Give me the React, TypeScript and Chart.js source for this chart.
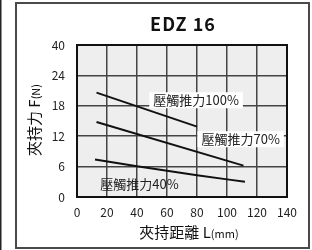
import React, { useEffect, useRef } from "react";
import { Chart, registerables } from "chart.js";

Chart.register(...registerables);

const title = "EDZ 16";
const xTicks = [0, 20, 40, 60, 80, 100, 120, 140];
const yTickLabels = [0, 6, 12, 18, 24, 40];

const seriesNames = ["壓觸推力100%", "壓觸推力70%", "壓觸推力40%"];
const x100 = [13, 80];
const f100 = [20.6, 13.9];
const x70 = [13, 111];
const f70 = [14.8, 6.2];
const x40 = [12, 40, 80, 112];
const f40 = [7.4, 6.05, 4.3, 3.0];

// label anchor positions in data units (L, F)
const labelX = [79.4, 109.1, 41.7];
const labelF = [19.1, 11.4, 2.5];
const labelBoxed = [true, true, false];

const FONT = "'Noto Sans CJK TC', 'Noto Sans', sans-serif";

// piecewise mapping from force value to the evenly spaced tick index
function toIdx(f: number): number {
  for (let i = 0; i < yTickLabels.length - 1; i++) {
    const a = yTickLabels[i], b = yTickLabels[i + 1];
    if (f <= b || i === yTickLabels.length - 2) return i + (f - a) / (b - a);
  }
  return 0;
}

function pts(xs: number[], fs: number[]) {
  return xs.map((x, i) => ({ x, y: toIdx(fs[i]) }));
}

const decor = {
  id: "decor",
  beforeDraw(chart: any) {
    const ctx = chart.ctx;
    const { left, top, right, bottom } = chart.chartArea;
    ctx.save();
    ctx.fillStyle = "#ffffff";
    ctx.fillRect(0, 0, chart.width, chart.height);
    // outer frame
    ctx.strokeStyle = "#4a4a4a";
    ctx.lineWidth = 2;
    ctx.strokeRect(16, 3, 293, 245);
    ctx.fillStyle = "#222";
    ctx.fillRect(0, 0, 1.5, chart.height);
    // plot bg
    ctx.fillStyle = "#eeeeee";
    ctx.fillRect(left, top, right - left, bottom - top);
    // title
    ctx.fillStyle = "#111";
    ctx.font = `bold 18px ${FONT}`;
    try { (ctx as any).letterSpacing = "1px"; } catch (e) {}
    ctx.textAlign = "center";
    ctx.textBaseline = "middle";
    ctx.fillText(title, (left + right) / 2 + 1, 24);
    try { (ctx as any).letterSpacing = "0px"; } catch (e) {}
    // axis titles with smaller unit text
    const drawMixed = (parts: [string, number][], cx: number, cy: number) => {
      let total = 0;
      parts.forEach(([t, s]) => {
        ctx.font = `${s}px ${FONT}`;
        total += ctx.measureText(t).width;
      });
      let x = cx - total / 2;
      ctx.textAlign = "left";
      ctx.textBaseline = "alphabetic";
      parts.forEach(([t, s]) => {
        ctx.font = `${s}px ${FONT}`;
        ctx.fillText(t, x, cy);
        x += ctx.measureText(t).width;
      });
    };
    ctx.fillStyle = "#111";
    drawMixed([["夾持距離 L", 15], ["(mm)", 11]], 189, 238);
    ctx.save();
    ctx.translate(40, 120);
    ctx.rotate(-Math.PI / 2);
    drawMixed([["夾持力 F", 15], ["(N)", 11]], 0, 0);
    ctx.restore();
    ctx.restore();
  },
  beforeDatasetsDraw(chart: any) {
    const ctx = chart.ctx;
    const xs = chart.scales.x, ys = chart.scales.y;
    ctx.save();
    ctx.font = `13px ${FONT}`;
    ctx.textAlign = "center";
    ctx.textBaseline = "middle";
    seriesNames.forEach((name, i) => {
      const px = xs.getPixelForValue(labelX[i]);
      const py = ys.getPixelForValue(toIdx(labelF[i]));
      const w = ctx.measureText(name).width;
      if (labelBoxed[i]) {
        ctx.fillStyle = "#ffffff";
        ctx.fillRect(px - w / 2 - 4, py - 8, w + 8, 16);
      }
      ctx.fillStyle = "#222";
      ctx.fillText(name, px, py);
    });
    ctx.restore();
  },
  afterDatasetsDraw(chart: any) {
    const ctx = chart.ctx;
    const { left, top, right, bottom } = chart.chartArea;
    ctx.save();
    ctx.strokeStyle = "#111";
    ctx.lineWidth = 2;
    ctx.strokeRect(left, top, right - left, bottom - top);
    ctx.restore();
  },
};

export default function App() {
  const ref = useRef<HTMLCanvasElement>(null);
  useEffect(() => {
    if (!ref.current) return;
    const lineStyle = {
      borderColor: "#111",
      borderWidth: 2,
      pointRadius: 0,
      fill: false,
    };
    const chart = new Chart(ref.current, {
      type: "line",
      data: {
        datasets: [
          { label: seriesNames[0], data: pts(x100, f100), ...lineStyle },
          { label: seriesNames[1], data: pts(x70, f70), ...lineStyle },
          { label: seriesNames[2], data: pts(x40, f40), ...lineStyle, cubicInterpolationMode: "monotone" },
        ],
      },
      options: {
        animation: false,
        responsive: false,
        devicePixelRatio: 1,
        layout: { padding: { left: 40, right: 25, top: 45, bottom: 28 } },
        plugins: { legend: { display: false }, tooltip: { enabled: false }, title: { display: false } },
        scales: {
          x: {
            type: "linear",
            min: 0,
            max: 140,
            afterBuildTicks: (s: any) => { s.ticks = xTicks.map((v) => ({ value: v })); },
            afterFit: (s: any) => { s.height = 25; },
            grid: { color: "#444", lineWidth: 1.5, drawTicks: false },
            border: { display: false },
            ticks: { padding: 8, color: "#222", font: { family: FONT, size: 12 }, maxRotation: 0 },
          },
          y: {
            type: "linear",
            min: 0,
            max: yTickLabels.length - 1,
            afterBuildTicks: (s: any) => { s.ticks = yTickLabels.map((_, i) => ({ value: i })); },
            afterFit: (s: any) => { s.width = 37; },
            grid: { color: "#444", lineWidth: 1.5, drawTicks: false },
            border: { display: false },
            ticks: {
              padding: 12,
              color: "#222",
              font: { family: FONT, size: 12 },
              callback: (v: any) => String(yTickLabels[Math.round(Number(v))]),
            },
          },
        },
      },
      plugins: [decor],
    } as any);
    return () => chart.destroy();
  }, []);
  return (
    <div style={{ position: "fixed", left: 0, top: 0, width: 312, height: 250 }}>
      <canvas ref={ref} width={312} height={250} />
    </div>
  );
}
